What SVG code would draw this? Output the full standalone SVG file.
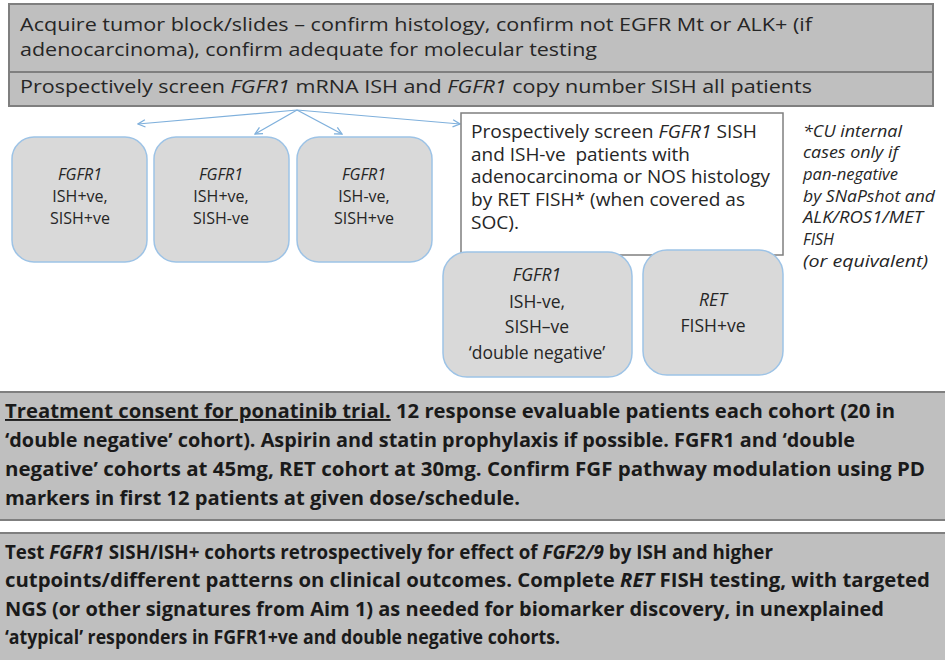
<svg xmlns="http://www.w3.org/2000/svg" width="945" height="660" viewBox="0 0 945 660">
<style>
text{font-family:"Open Sans","Noto Sans","Liberation Sans",sans-serif;fill:#262626}
.t{font-size:19px}
.b{font-size:19px;font-weight:bold;fill:#1a1a1a}
.n{font-size:17.5px;text-anchor:middle}
.s{font-size:16px}
.w{font-size:18px}
.f{font-size:16px;font-style:italic}
.i{font-style:italic}
.gbox{fill:#bfbfbf;stroke:#7f7f7f;stroke-width:2}
.node{fill:#d9d9d9;stroke:#9dc3e6;stroke-width:1.5}
.conn{fill:none;stroke:#7fb0dc;stroke-width:1.2}
</style>
<defs>
<marker id="ah" viewBox="0 0 10 10" refX="9" refY="5" markerWidth="9" markerHeight="9" markerUnits="userSpaceOnUse" orient="auto">
<path d="M1,1 L9,5 L1,9" fill="none" stroke="#7fb0dc" stroke-width="1.4"/>
</marker>
</defs>
<rect width="945" height="660" fill="#ffffff"/>

<g id="top">
<rect class="gbox" x="9" y="4" width="924" height="102"/>
<line x1="9" y1="72" x2="933" y2="72" stroke="#7f7f7f" stroke-width="2"/>
<text class="t" x="20" y="31" textLength="792" lengthAdjust="spacingAndGlyphs">Acquire tumor block/slides – confirm histology, confirm not EGFR Mt or ALK+ (if</text>
<text class="t" x="20" y="56" textLength="577" lengthAdjust="spacingAndGlyphs">adenocarcinoma), confirm adequate for molecular testing</text>
<text class="t" x="20" y="93" textLength="792" lengthAdjust="spacingAndGlyphs">Prospectively screen <tspan class="i">FGFR1</tspan> mRNA ISH and <tspan class="i">FGFR1</tspan> copy number SISH all patients</text>
</g>

<g id="connectors">
<path class="conn" d="M297,110 Q220,117 138,124" marker-end="url(#ah)"/>
<path class="conn" d="M297,110 L255,134" marker-end="url(#ah)"/>
<path class="conn" d="M297,110 L342,134" marker-end="url(#ah)"/>
<path class="conn" d="M297,110 Q380,117 460,124" marker-end="url(#ah)"/>
<path class="conn" d="M633,227 L588,252" marker-end="url(#ah)"/>
<path class="conn" d="M633,227 L677,252" marker-end="url(#ah)"/>
</g>

<g id="n1">
<rect class="node" x="12" y="137" width="135" height="125" rx="22"/>
<text class="n s" x="80" y="180"><tspan class="i">FGFR1</tspan></text>
<text class="n s" x="80" y="202">ISH+ve,</text>
<text class="n s" x="80" y="224">SISH+ve</text>
</g>
<g id="n2">
<rect class="node" x="154" y="137" width="135" height="125" rx="22"/>
<text class="n s" x="221" y="180"><tspan class="i">FGFR1</tspan></text>
<text class="n s" x="221" y="202">ISH+ve,</text>
<text class="n s" x="221" y="224">SISH-ve</text>
</g>
<g id="n3">
<rect class="node" x="297" y="137" width="135" height="125" rx="22"/>
<text class="n s" x="364" y="180"><tspan class="i">FGFR1</tspan></text>
<text class="n s" x="364" y="202">ISH-ve,</text>
<text class="n s" x="364" y="224">SISH+ve</text>
</g>

<g id="screen">
<rect x="461" y="113" width="322" height="142" fill="#ffffff" stroke="#7f7f7f" stroke-width="1.5"/>
<text class="w" x="471" y="138" textLength="286" lengthAdjust="spacingAndGlyphs">Prospectively screen <tspan class="i">FGFR1</tspan> SISH</text>
<text class="w" x="471" y="161" textLength="219" lengthAdjust="spacingAndGlyphs" xml:space="preserve">and ISH-ve  patients with</text>
<text class="w" x="471" y="183" textLength="299" lengthAdjust="spacingAndGlyphs">adenocarcinoma or NOS histology</text>
<text class="w" x="471" y="206" textLength="274" lengthAdjust="spacingAndGlyphs">by RET FISH* (when covered as</text>
<text class="w" x="471" y="229" textLength="48" lengthAdjust="spacingAndGlyphs">SOC).</text>
</g>

<g id="footnote">
<text class="f" x="803" y="137" textLength="99" lengthAdjust="spacingAndGlyphs">*CU internal</text>
<text class="f" x="803" y="158" textLength="95" lengthAdjust="spacingAndGlyphs">cases only if</text>
<text class="f" x="803" y="180" textLength="95" lengthAdjust="spacingAndGlyphs">pan-negative</text>
<text class="f" x="803" y="202" textLength="132" lengthAdjust="spacingAndGlyphs">by SNaPshot and</text>
<text class="f" x="803" y="223" textLength="120" lengthAdjust="spacingAndGlyphs">ALK/ROS1/MET</text>
<text class="f" x="803" y="245">FISH</text>
<text class="f" x="803" y="267" textLength="125" lengthAdjust="spacingAndGlyphs">(or equivalent)</text>
</g>

<g id="n4">
<rect class="node" x="443" y="252" width="189" height="125" rx="24"/>
<text class="n" x="537" y="281"><tspan class="i">FGFR1</tspan></text>
<text class="n" x="537" y="308">ISH-ve,</text>
<text class="n" x="537" y="333">SISH–ve</text>
<text class="n" x="537" y="359">‘double negative’</text>
</g>
<g id="n5">
<rect class="node" x="643" y="250" width="140" height="125" rx="24"/>
<text class="n" x="713" y="306"><tspan class="i">RET</tspan></text>
<text class="n" x="713" y="332">FISH+ve</text>
</g>

<g id="treatment">
<rect class="gbox" x="-2" y="392" width="949" height="128"/>
<text class="b" x="5" y="418" textLength="890" lengthAdjust="spacingAndGlyphs"><tspan text-decoration="underline">Treatment consent for ponatinib trial.</tspan> 12 response evaluable patients each cohort (20 in</text>
<text class="b" x="5" y="447" textLength="850" lengthAdjust="spacingAndGlyphs">‘double negative’ cohort). Aspirin and statin prophylaxis if possible. FGFR1 and ‘double</text>
<text class="b" x="5" y="476" textLength="920" lengthAdjust="spacingAndGlyphs">negative’ cohorts at 45mg, RET cohort at 30mg. Confirm FGF pathway modulation using PD</text>
<text class="b" x="5" y="505" textLength="515" lengthAdjust="spacingAndGlyphs">markers in first 12 patients at given dose/schedule.</text>
</g>

<g id="retro">
<rect class="gbox" x="-2" y="533" width="949" height="130"/>
<text class="b" x="5" y="559" textLength="768" lengthAdjust="spacingAndGlyphs">Test <tspan class="i">FGFR1</tspan> SISH/ISH+ cohorts retrospectively for effect of <tspan class="i">FGF2/9</tspan> by ISH and higher</text>
<text class="b" x="5" y="587" textLength="925" lengthAdjust="spacingAndGlyphs">cutpoints/different patterns on clinical outcomes. Complete <tspan class="i">RET</tspan> FISH testing, with targeted</text>
<text class="b" x="5" y="616" textLength="879" lengthAdjust="spacingAndGlyphs">NGS (or other signatures from Aim 1) as needed for biomarker discovery, in unexplained</text>
<text class="b" x="5" y="644" textLength="555" lengthAdjust="spacingAndGlyphs">‘atypical’ responders in FGFR1+ve and double negative cohorts.</text>
</g>
</svg>
